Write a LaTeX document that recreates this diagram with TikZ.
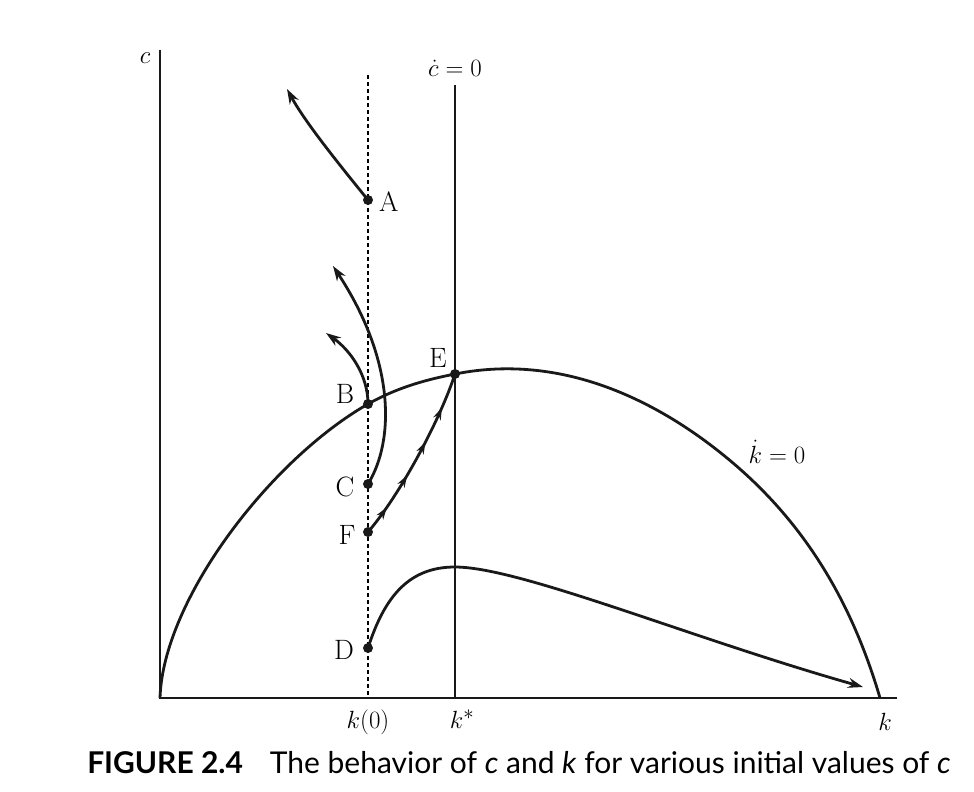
\documentclass[tikz,border=0pt]{standalone}
\usepackage{fontspec}
\newfontfamily\capfont{Lato}
\usetikzlibrary{arrows.meta,decorations.markings}
\begin{document}
\begin{tikzpicture}[x=1pt,y=-1pt,
  lbl/.style={font=\fontsize{28}{32}\selectfont, inner sep=0pt},
  dotnode/.style={circle,fill=black!90,inner sep=0pt,minimum size=10pt},
  curve/.style={line width=2.8pt,black!90},
  axis/.style={line width=2.4pt,black!90},
  tip/.style={-{Stealth[length=15pt,width=10pt]}},
  midarrows/.style={decoration={markings,
      mark=at position 0.17 with {\arrow{Stealth[length=12pt,width=8pt]}},
      mark=at position 0.38 with {\arrow{Stealth[length=12pt,width=8pt]}},
      mark=at position 0.59 with {\arrow{Stealth[length=12pt,width=8pt]}},
      mark=at position 0.80 with {\arrow{Stealth[length=12pt,width=8pt]}}},
    postaction={decorate}}
]
\useasboundingbox (0,0) rectangle (974,792);
% axes
\coordinate (O) at (160,698);
\coordinate (ytop) at (160,50);
\coordinate (xend) at (897,698);
\draw[axis] (ytop) -- (O) -- (xend);
% verticals
\coordinate (k0top) at (368,75);
\coordinate (k0bot) at (368,698);
\draw[line width=1.6pt,dash pattern=on 4pt off 3pt] (k0top) -- (k0bot);
\coordinate (kstop) at (455,85);
\coordinate (ksbot) at (455,698);
\draw[line width=1.8pt,black!90] (kstop) -- (ksbot);
% points
\node[dotnode] (A) at (368,200) {};
\node[dotnode] (B) at (368,404) {};
\node[dotnode] (C) at (368,484) {};
\node[dotnode] (F) at (368,532) {};
\node[dotnode] (D) at (368,648) {};
\node[dotnode] (E) at (455,374) {};
% kdot = 0 curve
\coordinate (kq) at (733,463);
\coordinate (kend) at (880,698);
\draw[curve] (O) .. controls (163,600) and (270,460) .. (B.center)
  .. controls (400,386) and (430,379) .. (E.center)
  .. controls (565,352) and (663,403.5) .. (kq)
  .. controls (803,522.5) and (851,599) .. (kend);
\coordinate (tA) at (287,89);
\coordinate (tB) at (326,333);
\coordinate (tC) at (333,266);
\coordinate (Dpk) at (455,567);
\coordinate (tD) at (863,687);
% trajectories
\draw[curve,tip] (A.center) .. controls (338,163) and (305,122) .. (tA);
\draw[curve,tip] (B.center) .. controls (368,375) and (350,350) .. (tB);
\draw[curve,tip] (C.center) .. controls (395,440) and (395,360) .. (tC);
\draw[curve,midarrows] (F.center) .. controls (400,495) and (440,420) .. (E.center);
\draw[curve,tip] (D.center) .. controls (385,595) and (410,567) .. (Dpk) .. controls (520,567) and (690,638) .. (tD);
% labels
\node[lbl,anchor=west] (lA) at (379,202) {A};
\node[lbl] (lB) at (345,394) {B};
\node[lbl] (lC) at (345,487) {C};
\node[lbl] (lF) at (347,535) {F};
\node[lbl] (lD) at (344,650) {D};
\node[lbl] (lE) at (438,358) {E};
\node[lbl] (lkdot) at (777,452) {$\dot{k}=0$};
\node[lbl] (lc) at (145,58) {$c$};
\node[lbl] (lcdot) at (455,68) {$\dot{c}=0$};
\node[lbl] (lk0) at (368,722) {$k(0)$};
\node[lbl] (lks) at (462,719) {$k^{*}$};
\node[lbl] (lk) at (885,722) {$k$};
% caption
\node[inner sep=0pt,font=\capfont\fontsize{30}{34}\selectfont] (cap) at (519,763)
  {\textbf{FIGURE 2.4}\hspace{0.9em}The behavior of \textit{c} and \textit{k} for various initial values of \textit{c}};
\end{tikzpicture}
\end{document}
